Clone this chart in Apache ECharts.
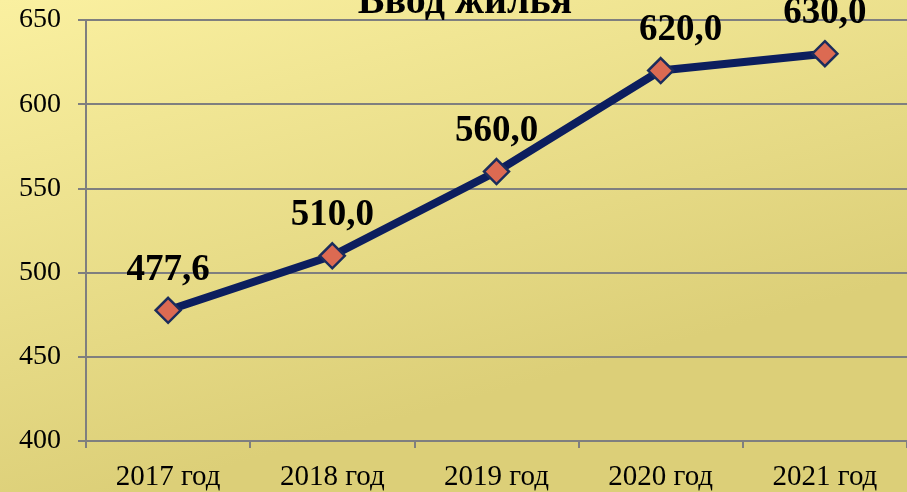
<!DOCTYPE html>
<html>
<head>
<meta charset="utf-8">
<script src="https://cdn.jsdelivr.net/npm/echarts@6/dist/echarts.min.js"></script>
<style>
  html, body { margin: 0; padding: 0; }
  #chart { width: 907px; height: 492px; }
</style>
</head>
<body>
<div id="chart"></div>
<script>
// данные графика
const years = ['2017 год', '2018 год', '2019 год', '2020 год', '2021 год']
const housing = [477.6, 510.0, 560.0, 620.0, 630.0]
const yTicks = { min: 400, max: 650, step: 50 }

const serif = 'Liberation Serif, Times New Roman, serif'
const chart = echarts.init(document.getElementById('chart'))

const option = {
  animation: false,
  backgroundColor: {
    type: 'linear', x: 0, y: 0, x2: 0.15, y2: 1,
    colorStops: [
      { offset: 0, color: '#faf0a0' },
      { offset: 1, color: '#dccf78' }
    ]
  },
  title: {
    text: 'Ввод жилья',
    left: 460,
    top: -22,
    textAlign: 'center',
    textStyle: { fontFamily: serif, fontWeight: 'bold', fontSize: 40, color: '#000' }
  },
  grid: { left: 86, right: -4, top: 20, bottom: 51 },
  xAxis: {
    type: 'category',
    data: years,
    boundaryGap: true,
    axisLine: { lineStyle: { color: '#7f7f7f', width: 2 } },
    axisTick: { show: true, length: 7, lineStyle: { color: '#7f7f7f', width: 2 } },
    axisLabel: { fontFamily: serif, fontSize: 29, color: '#000', margin: 22 }
  },
  yAxis: {
    type: 'value',
    min: yTicks.min,
    max: yTicks.max,
    interval: yTicks.step,
    axisLine: { show: true, lineStyle: { color: '#7f7f7f', width: 2 } },
    axisTick: { show: true, length: 8, lineStyle: { color: '#7f7f7f', width: 2 } },
    splitLine: { lineStyle: { color: '#7f7f7f', width: 2 } },
    axisLabel: { fontFamily: serif, fontSize: 28, color: '#000', margin: 25 }
  },
  series: [
    {
      type: 'line',
      data: housing.map((v, i) => ({
        value: v,
        label: i === 3 ? { offset: [20, 0] } : {}
      })),
      lineStyle: { color: '#0c1e5e', width: 8 },
      symbol: 'diamond',
      symbolSize: 25,
      showAllSymbol: true,
      itemStyle: { color: '#dc6a52', borderColor: '#1b2c5c', borderWidth: 2.5 },
      label: {
        show: true,
        position: 'top',
        distance: 8,
        fontFamily: serif,
        fontWeight: 'bold',
        fontSize: 37,
        color: '#000',
        formatter: p => p.value.toFixed(1).replace('.', ',')
      }
    }
  ]
}

chart.setOption(option)
</script>
</body>
</html>
